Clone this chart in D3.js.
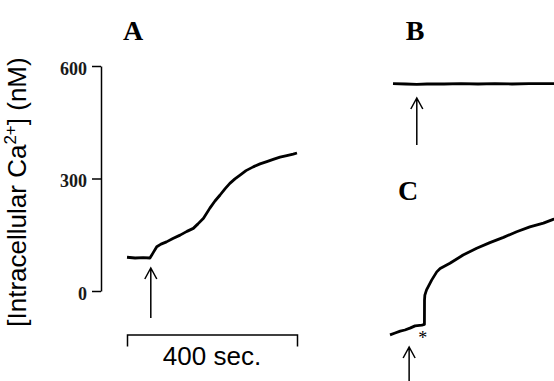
<!DOCTYPE html>
<html>
<head>
<meta charset="utf-8">
<script src="https://cdn.jsdelivr.net/npm/d3@7"></script>
<style>
  body { margin: 0; background: #fff; }
  svg { display: block; }
</style>
</head>
<body>
<div id="viz"></div>
<script>
// time (s) and intracellular Ca2+ (nM)
const timeA = [0, 19, 38, 54, 61, 70, 80, 93, 108, 125, 141, 156, 167, 180, 195, 207, 219, 231, 242, 254, 266, 280, 297, 313, 329, 344, 360, 376, 391, 400];
const caA = [90, 88, 89, 88, 101, 118, 125, 131, 140, 149, 159, 167, 179, 194, 221, 240, 256, 273, 287, 299, 309, 321, 331, 339, 345, 351, 357, 361, 365, 368];

const timeB = [0, 30, 56, 80, 120, 160, 200, 240, 280, 320, 380];
const caB = [91, 90, 89, 90, 90, 91, 90, 91, 90, 91, 91];

const timeC = [0, 12, 24, 35, 47, 59, 75, 81, 81.2, 82, 86, 98, 110, 118, 141, 172, 204, 235, 267, 298, 329, 361, 384, 400];
const caC = [93, 98, 103, 106, 111, 117, 119, 121, 186, 199, 213, 239, 261, 270, 284, 306, 324, 339, 353, 368, 381, 391, 401, 407];

const yTicks = [0, 300, 600];
const arrowTimes = { A: 56, B: 56, C: 45 };
const asteriskTimeC = 77;
const scaleBarSeconds = 400;

const width = 554;
const height = 381;

const svg = d3.select('#viz')
  .append('svg')
  .attr('width', width)
  .attr('height', height);

// panel scales (each trace panel keeps its own origin, same units)
const xA = d3.scaleLinear().domain([0, 400]).range([127, 297]);
const yA = d3.scaleLinear().domain([0, 600]).range([291, 66]);
const xB = d3.scaleLinear().domain([0, 400]).range([393, 563]);
const yB = d3.scaleLinear().domain([0, 600]).range([117.75, -107.25]);
const xC = d3.scaleLinear().domain([0, 400]).range([390, 560]);
const yC = d3.scaleLinear().domain([0, 600]).range([369.75, 144.75]);

// y axis
const yAxis = svg.append('g')
  .attr('transform', 'translate(101,0)')
  .call(d3.axisLeft(yA).tickValues(yTicks).tickSize(9).tickSizeOuter(0).tickPadding(5));
yAxis.select('.domain').attr('stroke', '#000').attr('stroke-width', 1.5);
yAxis.selectAll('.tick line').attr('stroke', '#000').attr('stroke-width', 1.5);
yAxis.selectAll('.tick text')
  .attr('fill', '#1a1a1a')
  .attr('dy', '0.45em')
  .style('font-family', '"Liberation Serif", serif')
  .style('font-size', '18px')
  .style('font-weight', 'bold');

// y axis label
const yLabel = svg.append('text')
  .attr('transform', 'translate(26,192) rotate(-90)')
  .attr('text-anchor', 'middle')
  .style('font-family', '"Liberation Sans", Arial, sans-serif')
  .style('font-size', '26px')
  .attr('fill', '#000');
yLabel.append('tspan').text('[Intracellular Ca');
yLabel.append('tspan').attr('dy', -10).style('font-size', '17px').text('2+');
yLabel.append('tspan').attr('dy', 10).text('] (nM)');

// time scale bar
const barScale = d3.scaleLinear().domain([0, scaleBarSeconds]).range(xA.range());
const bar = svg.append('g')
  .attr('transform', 'translate(0,334.5)')
  .call(d3.axisBottom(barScale).tickValues([]).tickSizeOuter(12));
bar.select('.domain').attr('stroke', '#000').attr('stroke-width', 1.5);

svg.append('text')
  .attr('x', d3.mean(barScale.range()))
  .attr('y', 365)
  .attr('text-anchor', 'middle')
  .style('font-family', '"Liberation Sans", Arial, sans-serif')
  .style('font-size', '26px')
  .text(`${scaleBarSeconds} sec.`);

// traces
const drawTrace = (times, values, x, y) => {
  const pts = times.map((t, i) => [t, values[i]]);
  svg.append('path')
    .datum(pts)
    .attr('fill', 'none')
    .attr('stroke', '#000')
    .attr('stroke-width', 2.8)
    .attr('stroke-linejoin', 'round')
    .attr('d', d3.line().x((d) => x(d[0])).y((d) => y(d[1])));
};

drawTrace(timeA, caA, xA, yA);
drawTrace(timeB, caB, xB, yB);
drawTrace(timeC, caC, xC, yC);

// stimulus arrows
const drawArrow = (x, tipY, length) => {
  svg.append('path')
    .attr('fill', 'none')
    .attr('stroke', '#000')
    .attr('stroke-width', 1.5)
    .attr('d', `M${x},${tipY + length}V${tipY}M${x - 6},${tipY + 11}L${x},${tipY}L${x + 6},${tipY + 11}`);
};

drawArrow(xA(arrowTimes.A), 268, 50);
drawArrow(xB(arrowTimes.B), 98, 47);
drawArrow(xC(arrowTimes.C), 347, 40);

svg.append('text')
  .attr('x', xC(asteriskTimeC))
  .attr('y', 344)
  .attr('text-anchor', 'middle')
  .style('font-family', '"Liberation Serif", serif')
  .style('font-size', '18px')
  .text('*');

// panel letters
const letters = [
  { t: 'A', x: 133, y: 40 },
  { t: 'B', x: 415, y: 40 },
  { t: 'C', x: 408, y: 200 },
];
svg.selectAll('.letter')
  .data(letters)
  .join('text')
  .attr('class', 'letter')
  .attr('x', (d) => d.x)
  .attr('y', (d) => d.y)
  .attr('text-anchor', 'middle')
  .style('font-family', '"Liberation Serif", serif')
  .style('font-size', '28px')
  .style('font-weight', 'bold')
  .text((d) => d.t);
</script>
</body>
</html>
